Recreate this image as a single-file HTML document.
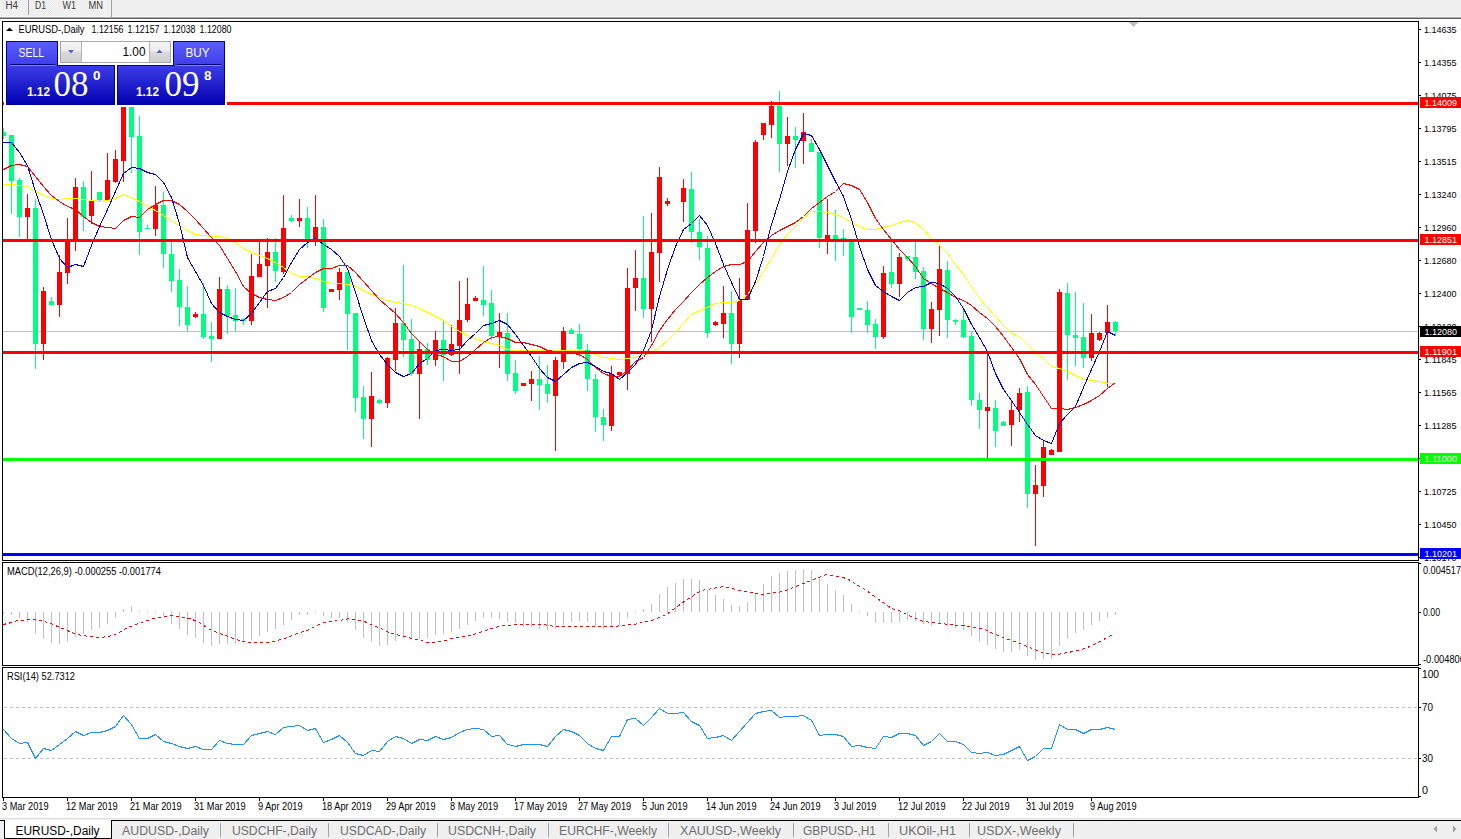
<!DOCTYPE html>
<html><head><meta charset="utf-8"><style>
html,body{margin:0;padding:0;background:#fff;}
body{width:1461px;height:839px;overflow:hidden;position:relative;font-family:"Liberation Sans", sans-serif;}
svg{position:absolute;left:0;top:0;display:block;}
</style></head><body>
<svg width="1461" height="839" viewBox="0 0 1461 839">
<rect x="0" y="0" width="1461" height="17" fill="#f0f0f0" />
<rect x="0" y="16" width="1461" height="1" fill="#f8f8f8" />
<rect x="0" y="17" width="1461" height="1" fill="#a8a8a8" />
<rect x="0" y="18" width="1461" height="1" fill="#646464" />
<rect x="28" y="0" width="1" height="15" fill="#a0a0a0" />
<rect x="111" y="0" width="1" height="17" fill="#a0a0a0" />
<defs><pattern id="dots" width="2" height="2" patternUnits="userSpaceOnUse"><rect width="2" height="2" fill="#f8f8f8"/><rect width="1" height="1" fill="#e6e6e6"/><rect x="1" y="1" width="1" height="1" fill="#e6e6e6"/></pattern><linearGradient id="gpanel" x1="0" y1="0" x2="0" y2="1"><stop offset="0" stop-color="#5c5cff"/><stop offset="0.35" stop-color="#4040ea"/><stop offset="1" stop-color="#0000b0"/></linearGradient><linearGradient id="gbtn" x1="0" y1="0" x2="0" y2="1"><stop offset="0" stop-color="#f4f4f4"/><stop offset="0.45" stop-color="#ececec"/><stop offset="0.5" stop-color="#dadada"/><stop offset="1" stop-color="#d0d0d0"/></linearGradient><clipPath id="cmain"><rect x="3" y="22" width="1415" height="538"/></clipPath><clipPath id="cmacd"><rect x="3" y="563" width="1415" height="102"/></clipPath><clipPath id="crsi"><rect x="3" y="668" width="1415" height="129"/></clipPath></defs>
<rect x="29" y="0" width="24" height="15" fill="url(#dots)" />
<text x="5.5" y="9" font-family='"Liberation Sans", sans-serif' font-size="10" fill="#3a3a3a" font-weight="normal" text-anchor="start" textLength="12.5" lengthAdjust="spacingAndGlyphs" >H4</text>
<text x="35" y="9" font-family='"Liberation Sans", sans-serif' font-size="10" fill="#3a3a3a" font-weight="normal" text-anchor="start" textLength="11" lengthAdjust="spacingAndGlyphs" >D1</text>
<text x="62.5" y="9" font-family='"Liberation Sans", sans-serif' font-size="10" fill="#3a3a3a" font-weight="normal" text-anchor="start" textLength="13.5" lengthAdjust="spacingAndGlyphs" >W1</text>
<text x="88.5" y="9" font-family='"Liberation Sans", sans-serif' font-size="10" fill="#3a3a3a" font-weight="normal" text-anchor="start" textLength="14.5" lengthAdjust="spacingAndGlyphs" >MN</text>
<rect x="2" y="21" width="1417" height="1" fill="#000" />
<rect x="2" y="560" width="1417" height="1" fill="#000" />
<rect x="2" y="21" width="1" height="540" fill="#000" />
<rect x="1418" y="21" width="1" height="540" fill="#000" />
<rect x="2" y="562" width="1417" height="1" fill="#000" />
<rect x="2" y="665" width="1417" height="1" fill="#000" />
<rect x="2" y="562" width="1" height="104" fill="#000" />
<rect x="1418" y="562" width="1" height="104" fill="#000" />
<rect x="2" y="667" width="1417" height="1" fill="#000" />
<rect x="2" y="797" width="1417" height="1" fill="#000" />
<rect x="2" y="667" width="1" height="131" fill="#000" />
<rect x="1418" y="667" width="1" height="131" fill="#000" />
<g clip-path="url(#cmain)" shape-rendering="crispEdges">
<rect x="3" y="331" width="1415" height="1" fill="#c0c0c0" />
<rect x="3" y="128" width="1" height="11" fill="#00ff7f" />
<rect x="1" y="132" width="5" height="4" fill="#00ff7f" />
<rect x="11" y="135" width="1" height="79" fill="#00ff7f" />
<rect x="9" y="135" width="5" height="46" fill="#00ff7f" />
<rect x="19" y="178" width="1" height="59" fill="#00ff7f" />
<rect x="17" y="180" width="5" height="37" fill="#00ff7f" />
<rect x="27" y="194" width="1" height="45" fill="#ff0000" />
<rect x="25" y="208" width="5" height="9" fill="#ff0000" />
<rect x="35" y="199" width="1" height="170" fill="#00ff7f" />
<rect x="33" y="208" width="5" height="136" fill="#00ff7f" />
<rect x="43" y="287" width="1" height="73" fill="#ff0000" />
<rect x="41" y="291" width="5" height="53" fill="#ff0000" />
<rect x="51" y="297" width="1" height="9" fill="#00ff7f" />
<rect x="49" y="301" width="5" height="4" fill="#00ff7f" />
<rect x="59" y="255" width="1" height="62" fill="#ff0000" />
<rect x="57" y="272" width="5" height="33" fill="#ff0000" />
<rect x="67" y="218" width="1" height="66" fill="#ff0000" />
<rect x="65" y="241" width="5" height="32" fill="#ff0000" />
<rect x="75" y="178" width="1" height="73" fill="#ff0000" />
<rect x="73" y="187" width="5" height="54" fill="#ff0000" />
<rect x="83" y="181" width="1" height="50" fill="#00ff7f" />
<rect x="81" y="187" width="5" height="30" fill="#00ff7f" />
<rect x="91" y="171" width="1" height="53" fill="#ff0000" />
<rect x="89" y="200" width="5" height="16" fill="#ff0000" />
<rect x="99" y="192" width="1" height="10" fill="#00ff7f" />
<rect x="97" y="192" width="5" height="8" fill="#00ff7f" />
<rect x="107" y="153" width="1" height="47" fill="#ff0000" />
<rect x="105" y="180" width="5" height="20" fill="#ff0000" />
<rect x="115" y="150" width="1" height="33" fill="#ff0000" />
<rect x="113" y="159" width="5" height="23" fill="#ff0000" />
<rect x="123" y="107" width="1" height="75" fill="#ff0000" />
<rect x="121" y="107" width="5" height="54" fill="#ff0000" />
<rect x="131" y="107" width="1" height="66" fill="#00ff7f" />
<rect x="129" y="107" width="5" height="30" fill="#00ff7f" />
<rect x="139" y="116" width="1" height="139" fill="#00ff7f" />
<rect x="137" y="136" width="5" height="96" fill="#00ff7f" />
<rect x="147" y="225" width="1" height="4" fill="#00ff7f" />
<rect x="145" y="228" width="5" height="1" fill="#00ff7f" />
<rect x="155" y="186" width="1" height="50" fill="#ff0000" />
<rect x="153" y="205" width="5" height="24" fill="#ff0000" />
<rect x="163" y="192" width="1" height="76" fill="#00ff7f" />
<rect x="161" y="205" width="5" height="49" fill="#00ff7f" />
<rect x="171" y="241" width="1" height="51" fill="#00ff7f" />
<rect x="169" y="254" width="5" height="27" fill="#00ff7f" />
<rect x="179" y="269" width="1" height="57" fill="#00ff7f" />
<rect x="177" y="280" width="5" height="27" fill="#00ff7f" />
<rect x="187" y="286" width="1" height="45" fill="#00ff7f" />
<rect x="185" y="307" width="5" height="18" fill="#00ff7f" />
<rect x="195" y="312" width="1" height="6" fill="#ff0000" />
<rect x="193" y="314" width="5" height="3" fill="#ff0000" />
<rect x="203" y="283" width="1" height="56" fill="#00ff7f" />
<rect x="201" y="314" width="5" height="23" fill="#00ff7f" />
<rect x="211" y="322" width="1" height="40" fill="#00ff7f" />
<rect x="209" y="336" width="5" height="3" fill="#00ff7f" />
<rect x="219" y="277" width="1" height="62" fill="#ff0000" />
<rect x="217" y="289" width="5" height="50" fill="#ff0000" />
<rect x="227" y="285" width="1" height="49" fill="#00ff7f" />
<rect x="225" y="289" width="5" height="27" fill="#00ff7f" />
<rect x="235" y="288" width="1" height="43" fill="#00ff7f" />
<rect x="233" y="315" width="5" height="6" fill="#00ff7f" />
<rect x="243" y="318" width="1" height="7" fill="#00ff7f" />
<rect x="241" y="319" width="5" height="2" fill="#00ff7f" />
<rect x="251" y="254" width="1" height="71" fill="#ff0000" />
<rect x="249" y="276" width="5" height="45" fill="#ff0000" />
<rect x="259" y="240" width="1" height="37" fill="#ff0000" />
<rect x="257" y="264" width="5" height="13" fill="#ff0000" />
<rect x="267" y="238" width="1" height="70" fill="#ff0000" />
<rect x="265" y="252" width="5" height="14" fill="#ff0000" />
<rect x="275" y="238" width="1" height="44" fill="#00ff7f" />
<rect x="273" y="252" width="5" height="19" fill="#00ff7f" />
<rect x="283" y="195" width="1" height="79" fill="#ff0000" />
<rect x="281" y="228" width="5" height="44" fill="#ff0000" />
<rect x="291" y="215" width="1" height="7" fill="#00ff7f" />
<rect x="289" y="218" width="5" height="3" fill="#00ff7f" />
<rect x="299" y="199" width="1" height="28" fill="#ff0000" />
<rect x="297" y="218" width="5" height="3" fill="#ff0000" />
<rect x="307" y="207" width="1" height="41" fill="#00ff7f" />
<rect x="305" y="218" width="5" height="21" fill="#00ff7f" />
<rect x="315" y="195" width="1" height="51" fill="#ff0000" />
<rect x="313" y="227" width="5" height="12" fill="#ff0000" />
<rect x="323" y="219" width="1" height="93" fill="#00ff7f" />
<rect x="321" y="227" width="5" height="81" fill="#00ff7f" />
<rect x="331" y="289" width="1" height="3" fill="#ff0000" />
<rect x="329" y="289" width="5" height="3" fill="#ff0000" />
<rect x="339" y="268" width="1" height="32" fill="#ff0000" />
<rect x="337" y="272" width="5" height="18" fill="#ff0000" />
<rect x="347" y="272" width="1" height="78" fill="#00ff7f" />
<rect x="345" y="272" width="5" height="42" fill="#00ff7f" />
<rect x="355" y="313" width="1" height="99" fill="#00ff7f" />
<rect x="353" y="313" width="5" height="85" fill="#00ff7f" />
<rect x="363" y="386" width="1" height="53" fill="#00ff7f" />
<rect x="361" y="397" width="5" height="22" fill="#00ff7f" />
<rect x="371" y="372" width="1" height="75" fill="#ff0000" />
<rect x="369" y="396" width="5" height="23" fill="#ff0000" />
<rect x="379" y="399" width="1" height="5" fill="#00ff7f" />
<rect x="377" y="400" width="5" height="3" fill="#00ff7f" />
<rect x="387" y="357" width="1" height="51" fill="#ff0000" />
<rect x="385" y="358" width="5" height="45" fill="#ff0000" />
<rect x="395" y="308" width="1" height="63" fill="#ff0000" />
<rect x="393" y="323" width="5" height="37" fill="#ff0000" />
<rect x="403" y="265" width="1" height="92" fill="#00ff7f" />
<rect x="401" y="323" width="5" height="17" fill="#00ff7f" />
<rect x="411" y="319" width="1" height="57" fill="#00ff7f" />
<rect x="409" y="339" width="5" height="35" fill="#00ff7f" />
<rect x="419" y="342" width="1" height="77" fill="#ff0000" />
<rect x="417" y="349" width="5" height="25" fill="#ff0000" />
<rect x="427" y="343" width="1" height="22" fill="#00ff7f" />
<rect x="425" y="349" width="5" height="11" fill="#00ff7f" />
<rect x="435" y="331" width="1" height="35" fill="#ff0000" />
<rect x="433" y="340" width="5" height="20" fill="#ff0000" />
<rect x="443" y="320" width="1" height="61" fill="#00ff7f" />
<rect x="441" y="340" width="5" height="15" fill="#00ff7f" />
<rect x="451" y="325" width="1" height="31" fill="#ff0000" />
<rect x="449" y="344" width="5" height="11" fill="#ff0000" />
<rect x="459" y="281" width="1" height="93" fill="#ff0000" />
<rect x="457" y="320" width="5" height="26" fill="#ff0000" />
<rect x="467" y="278" width="1" height="44" fill="#ff0000" />
<rect x="465" y="304" width="5" height="16" fill="#ff0000" />
<rect x="475" y="296" width="1" height="5" fill="#ff0000" />
<rect x="473" y="298" width="5" height="3" fill="#ff0000" />
<rect x="483" y="266" width="1" height="50" fill="#00ff7f" />
<rect x="481" y="300" width="5" height="5" fill="#00ff7f" />
<rect x="491" y="290" width="1" height="50" fill="#00ff7f" />
<rect x="489" y="303" width="5" height="33" fill="#00ff7f" />
<rect x="499" y="313" width="1" height="55" fill="#ff0000" />
<rect x="497" y="332" width="5" height="5" fill="#ff0000" />
<rect x="507" y="313" width="1" height="68" fill="#00ff7f" />
<rect x="505" y="333" width="5" height="41" fill="#00ff7f" />
<rect x="515" y="360" width="1" height="34" fill="#00ff7f" />
<rect x="513" y="373" width="5" height="18" fill="#00ff7f" />
<rect x="523" y="383" width="1" height="3" fill="#ff0000" />
<rect x="521" y="383" width="5" height="3" fill="#ff0000" />
<rect x="531" y="371" width="1" height="30" fill="#ff0000" />
<rect x="529" y="379" width="5" height="5" fill="#ff0000" />
<rect x="539" y="356" width="1" height="54" fill="#00ff7f" />
<rect x="537" y="379" width="5" height="6" fill="#00ff7f" />
<rect x="547" y="365" width="1" height="38" fill="#00ff7f" />
<rect x="545" y="384" width="5" height="10" fill="#00ff7f" />
<rect x="555" y="357" width="1" height="94" fill="#ff0000" />
<rect x="553" y="360" width="5" height="36" fill="#ff0000" />
<rect x="563" y="327" width="1" height="42" fill="#ff0000" />
<rect x="561" y="331" width="5" height="31" fill="#ff0000" />
<rect x="571" y="328" width="1" height="6" fill="#00ff7f" />
<rect x="569" y="330" width="5" height="4" fill="#00ff7f" />
<rect x="579" y="324" width="1" height="33" fill="#00ff7f" />
<rect x="577" y="334" width="5" height="15" fill="#00ff7f" />
<rect x="587" y="344" width="1" height="47" fill="#00ff7f" />
<rect x="585" y="350" width="5" height="29" fill="#00ff7f" />
<rect x="595" y="374" width="1" height="58" fill="#00ff7f" />
<rect x="593" y="379" width="5" height="38" fill="#00ff7f" />
<rect x="603" y="409" width="1" height="32" fill="#00ff7f" />
<rect x="601" y="417" width="5" height="8" fill="#00ff7f" />
<rect x="611" y="366" width="1" height="65" fill="#ff0000" />
<rect x="609" y="374" width="5" height="52" fill="#ff0000" />
<rect x="619" y="372" width="1" height="4" fill="#ff0000" />
<rect x="617" y="372" width="5" height="3" fill="#ff0000" />
<rect x="627" y="268" width="1" height="122" fill="#ff0000" />
<rect x="625" y="288" width="5" height="86" fill="#ff0000" />
<rect x="635" y="250" width="1" height="61" fill="#ff0000" />
<rect x="633" y="278" width="5" height="10" fill="#ff0000" />
<rect x="643" y="216" width="1" height="102" fill="#00ff7f" />
<rect x="641" y="278" width="5" height="31" fill="#00ff7f" />
<rect x="651" y="213" width="1" height="129" fill="#ff0000" />
<rect x="649" y="252" width="5" height="57" fill="#ff0000" />
<rect x="659" y="167" width="1" height="115" fill="#ff0000" />
<rect x="657" y="177" width="5" height="76" fill="#ff0000" />
<rect x="667" y="198" width="1" height="8" fill="#ff0000" />
<rect x="665" y="201" width="5" height="3" fill="#ff0000" />
<rect x="683" y="179" width="1" height="43" fill="#ff0000" />
<rect x="681" y="188" width="5" height="14" fill="#ff0000" />
<rect x="691" y="172" width="1" height="71" fill="#00ff7f" />
<rect x="689" y="189" width="5" height="43" fill="#00ff7f" />
<rect x="699" y="219" width="1" height="41" fill="#00ff7f" />
<rect x="697" y="232" width="5" height="15" fill="#00ff7f" />
<rect x="707" y="236" width="1" height="102" fill="#00ff7f" />
<rect x="705" y="248" width="5" height="85" fill="#00ff7f" />
<rect x="715" y="321" width="1" height="5" fill="#ff0000" />
<rect x="713" y="322" width="5" height="3" fill="#ff0000" />
<rect x="723" y="286" width="1" height="52" fill="#ff0000" />
<rect x="721" y="313" width="5" height="11" fill="#ff0000" />
<rect x="731" y="291" width="1" height="73" fill="#00ff7f" />
<rect x="729" y="313" width="5" height="31" fill="#00ff7f" />
<rect x="739" y="278" width="1" height="80" fill="#ff0000" />
<rect x="737" y="300" width="5" height="44" fill="#ff0000" />
<rect x="747" y="203" width="1" height="97" fill="#ff0000" />
<rect x="745" y="230" width="5" height="70" fill="#ff0000" />
<rect x="755" y="140" width="1" height="103" fill="#ff0000" />
<rect x="753" y="142" width="5" height="89" fill="#ff0000" />
<rect x="763" y="123" width="1" height="17" fill="#ff0000" />
<rect x="761" y="123" width="5" height="12" fill="#ff0000" />
<rect x="771" y="101" width="1" height="37" fill="#ff0000" />
<rect x="769" y="106" width="5" height="19" fill="#ff0000" />
<rect x="779" y="91" width="1" height="81" fill="#00ff7f" />
<rect x="777" y="106" width="5" height="38" fill="#00ff7f" />
<rect x="787" y="117" width="1" height="49" fill="#ff0000" />
<rect x="785" y="136" width="5" height="8" fill="#ff0000" />
<rect x="795" y="127" width="1" height="41" fill="#00ff7f" />
<rect x="793" y="136" width="5" height="4" fill="#00ff7f" />
<rect x="803" y="113" width="1" height="51" fill="#ff0000" />
<rect x="801" y="132" width="5" height="9" fill="#ff0000" />
<rect x="811" y="139" width="1" height="13" fill="#00ff7f" />
<rect x="809" y="143" width="5" height="9" fill="#00ff7f" />
<rect x="819" y="152" width="1" height="96" fill="#00ff7f" />
<rect x="817" y="152" width="5" height="86" fill="#00ff7f" />
<rect x="827" y="199" width="1" height="55" fill="#ff0000" />
<rect x="825" y="235" width="5" height="4" fill="#ff0000" />
<rect x="835" y="210" width="1" height="51" fill="#00ff7f" />
<rect x="833" y="235" width="5" height="4" fill="#00ff7f" />
<rect x="843" y="229" width="1" height="27" fill="#00ff7f" />
<rect x="841" y="238" width="5" height="2" fill="#00ff7f" />
<rect x="851" y="239" width="1" height="94" fill="#00ff7f" />
<rect x="849" y="242" width="5" height="75" fill="#00ff7f" />
<rect x="859" y="308" width="1" height="2" fill="#00ff7f" />
<rect x="857" y="308" width="5" height="2" fill="#00ff7f" />
<rect x="867" y="301" width="1" height="32" fill="#00ff7f" />
<rect x="865" y="310" width="5" height="15" fill="#00ff7f" />
<rect x="875" y="319" width="1" height="30" fill="#00ff7f" />
<rect x="873" y="324" width="5" height="13" fill="#00ff7f" />
<rect x="883" y="266" width="1" height="73" fill="#ff0000" />
<rect x="881" y="273" width="5" height="64" fill="#ff0000" />
<rect x="891" y="242" width="1" height="46" fill="#00ff7f" />
<rect x="889" y="272" width="5" height="12" fill="#00ff7f" />
<rect x="899" y="253" width="1" height="44" fill="#ff0000" />
<rect x="897" y="257" width="5" height="27" fill="#ff0000" />
<rect x="907" y="256" width="1" height="5" fill="#00ff7f" />
<rect x="905" y="256" width="5" height="3" fill="#00ff7f" />
<rect x="915" y="242" width="1" height="37" fill="#00ff7f" />
<rect x="913" y="257" width="5" height="15" fill="#00ff7f" />
<rect x="923" y="267" width="1" height="73" fill="#00ff7f" />
<rect x="921" y="271" width="5" height="58" fill="#00ff7f" />
<rect x="931" y="302" width="1" height="41" fill="#ff0000" />
<rect x="929" y="309" width="5" height="20" fill="#ff0000" />
<rect x="939" y="245" width="1" height="91" fill="#ff0000" />
<rect x="937" y="269" width="5" height="41" fill="#ff0000" />
<rect x="947" y="261" width="1" height="77" fill="#00ff7f" />
<rect x="945" y="270" width="5" height="50" fill="#00ff7f" />
<rect x="955" y="319" width="1" height="6" fill="#00ff7f" />
<rect x="953" y="320" width="5" height="2" fill="#00ff7f" />
<rect x="963" y="310" width="1" height="28" fill="#00ff7f" />
<rect x="961" y="320" width="5" height="17" fill="#00ff7f" />
<rect x="971" y="332" width="1" height="74" fill="#00ff7f" />
<rect x="969" y="336" width="5" height="64" fill="#00ff7f" />
<rect x="979" y="393" width="1" height="36" fill="#00ff7f" />
<rect x="977" y="400" width="5" height="10" fill="#00ff7f" />
<rect x="987" y="354" width="1" height="104" fill="#ff0000" />
<rect x="985" y="407" width="5" height="4" fill="#ff0000" />
<rect x="995" y="400" width="1" height="47" fill="#00ff7f" />
<rect x="993" y="408" width="5" height="23" fill="#00ff7f" />
<rect x="1003" y="421" width="1" height="5" fill="#00ff7f" />
<rect x="1001" y="422" width="5" height="4" fill="#00ff7f" />
<rect x="1011" y="400" width="1" height="46" fill="#ff0000" />
<rect x="1009" y="410" width="5" height="15" fill="#ff0000" />
<rect x="1019" y="388" width="1" height="34" fill="#ff0000" />
<rect x="1017" y="393" width="5" height="17" fill="#ff0000" />
<rect x="1027" y="386" width="1" height="122" fill="#00ff7f" />
<rect x="1025" y="392" width="5" height="102" fill="#00ff7f" />
<rect x="1035" y="465" width="1" height="81" fill="#ff0000" />
<rect x="1033" y="485" width="5" height="9" fill="#ff0000" />
<rect x="1043" y="441" width="1" height="56" fill="#ff0000" />
<rect x="1041" y="447" width="5" height="39" fill="#ff0000" />
<rect x="1051" y="449" width="1" height="6" fill="#ff0000" />
<rect x="1049" y="450" width="5" height="5" fill="#ff0000" />
<rect x="1059" y="289" width="1" height="163" fill="#ff0000" />
<rect x="1057" y="292" width="5" height="160" fill="#ff0000" />
<rect x="1067" y="283" width="1" height="97" fill="#00ff7f" />
<rect x="1065" y="293" width="5" height="42" fill="#00ff7f" />
<rect x="1075" y="292" width="1" height="74" fill="#00ff7f" />
<rect x="1073" y="335" width="5" height="3" fill="#00ff7f" />
<rect x="1083" y="303" width="1" height="65" fill="#00ff7f" />
<rect x="1081" y="337" width="5" height="21" fill="#00ff7f" />
<rect x="1091" y="314" width="1" height="47" fill="#ff0000" />
<rect x="1089" y="333" width="5" height="25" fill="#ff0000" />
<rect x="1099" y="332" width="1" height="9" fill="#ff0000" />
<rect x="1097" y="333" width="5" height="7" fill="#ff0000" />
<rect x="1107" y="305" width="1" height="82" fill="#ff0000" />
<rect x="1105" y="322" width="5" height="11" fill="#ff0000" />
<rect x="1115" y="321" width="1" height="15" fill="#00ff7f" />
<rect x="1113" y="322" width="5" height="9" fill="#00ff7f" />
<polyline points="-4.5,184.5 3.5,184.5 11.5,184.5 19.5,185.5 27.5,186.5 35.5,191.5 43.5,195.5 51.5,198.5 59.5,199.5 67.5,198.5 75.5,198.5 83.5,199.5 91.5,200.5 99.5,201.5 107.5,200.5 115.5,198.5 123.5,194.5 131.5,197.5 139.5,201.5 147.5,206.5 155.5,210.5 163.5,215.5 171.5,220.5 179.5,225.5 187.5,230.5 195.5,234.5 203.5,235.5 211.5,236.5 219.5,236.5 227.5,238.5 235.5,242.5 243.5,248.5 251.5,252.5 259.5,255.5 267.5,258.5 275.5,262.5 283.5,267.5 291.5,273.5 299.5,276.5 307.5,276.5 315.5,278.5 323.5,281.5 331.5,283.5 339.5,283.5 347.5,284.5 355.5,286.5 363.5,290.5 371.5,294.5 379.5,297.5 387.5,300.5 395.5,302.5 403.5,303.5 411.5,305.5 419.5,308.5 427.5,312.5 435.5,316.5 443.5,320.5 451.5,326.5 459.5,331.5 467.5,335.5 475.5,338.5 483.5,341.5 491.5,343.5 499.5,345.5 507.5,349.5 515.5,350.5 523.5,350.5 531.5,350.5 539.5,350.5 547.5,350.5 555.5,350.5 563.5,350.5 571.5,350.5 579.5,350.5 587.5,351.5 595.5,354.5 603.5,357.5 611.5,358.5 619.5,359.5 627.5,358.5 635.5,357.5 643.5,355.5 651.5,352.5 659.5,347.5 667.5,340.5 675.5,332.5 683.5,323.5 691.5,314.5 699.5,310.5 707.5,307.5 715.5,303.5 723.5,302.5 731.5,302.5 739.5,300.5 747.5,294.5 755.5,284.5 763.5,271.5 771.5,258.5 779.5,244.5 787.5,234.5 795.5,226.5 803.5,218.5 811.5,211.5 819.5,211.5 827.5,212.5 835.5,214.5 843.5,217.5 851.5,222.5 859.5,226.5 867.5,229.5 875.5,229.5 883.5,227.5 891.5,225.5 899.5,222.5 907.5,220.5 915.5,222.5 923.5,229.5 931.5,238.5 939.5,245.5 947.5,253.5 955.5,264.5 963.5,274.5 971.5,286.5 979.5,298.5 987.5,307.5 995.5,316.5 1003.5,325.5 1011.5,333.5 1019.5,336.5 1027.5,344.5 1035.5,352.5 1043.5,358.5 1051.5,366.5 1059.5,368.5 1067.5,371.5 1075.5,375.5 1083.5,379.5 1091.5,380.5 1099.5,381.5 1107.5,383.5 1115.5,383.5" fill="none" stroke="#ffff00" stroke-width="1" />
<polyline points="-4.5,172.5 3.5,169.5 11.5,165.5 19.5,164.5 27.5,166.5 35.5,176.5 43.5,186.5 51.5,195.5 59.5,201.5 67.5,206.5 75.5,209.5 83.5,216.5 91.5,222.5 99.5,226.5 107.5,227.5 115.5,228.5 123.5,220.5 131.5,216.5 139.5,217.5 147.5,209.5 155.5,204.5 163.5,200.5 171.5,200.5 179.5,204.5 187.5,211.5 195.5,219.5 203.5,228.5 211.5,237.5 219.5,245.5 227.5,258.5 235.5,271.5 243.5,286.5 251.5,293.5 259.5,297.5 267.5,299.5 275.5,300.5 283.5,297.5 291.5,292.5 299.5,284.5 307.5,278.5 315.5,272.5 323.5,268.5 331.5,268.5 339.5,265.5 347.5,265.5 355.5,272.5 363.5,281.5 371.5,290.5 379.5,299.5 387.5,306.5 395.5,313.5 403.5,322.5 411.5,333.5 419.5,341.5 427.5,349.5 435.5,354.5 443.5,356.5 451.5,361.5 459.5,361.5 467.5,356.5 475.5,349.5 483.5,342.5 491.5,337.5 499.5,336.5 507.5,338.5 515.5,342.5 523.5,342.5 531.5,344.5 539.5,346.5 547.5,350.5 555.5,351.5 563.5,352.5 571.5,353.5 579.5,354.5 587.5,359.5 595.5,367.5 603.5,373.5 611.5,376.5 619.5,376.5 627.5,370.5 635.5,361.5 643.5,357.5 651.5,345.5 659.5,330.5 667.5,319.5 675.5,309.5 683.5,301.5 691.5,292.5 699.5,284.5 707.5,277.5 715.5,271.5 723.5,266.5 731.5,264.5 739.5,264.5 747.5,261.5 755.5,251.5 763.5,242.5 771.5,235.5 779.5,230.5 787.5,226.5 795.5,222.5 803.5,216.5 811.5,208.5 819.5,202.5 827.5,196.5 835.5,191.5 843.5,183.5 851.5,185.5 859.5,189.5 867.5,202.5 875.5,218.5 883.5,229.5 891.5,239.5 899.5,249.5 907.5,257.5 915.5,266.5 923.5,278.5 931.5,283.5 939.5,288.5 947.5,292.5 955.5,297.5 963.5,300.5 971.5,305.5 979.5,312.5 987.5,318.5 995.5,326.5 1003.5,336.5 1011.5,347.5 1019.5,358.5 1027.5,374.5 1035.5,384.5 1043.5,396.5 1051.5,408.5 1059.5,408.5 1067.5,409.5 1075.5,407.5 1083.5,404.5 1091.5,400.5 1099.5,395.5 1107.5,388.5 1115.5,382.5" fill="none" stroke="#ff0000" stroke-width="1" />
<polyline points="-4.5,140.5 3.5,142.5 11.5,142.5 19.5,152.5 27.5,165.5 35.5,191.5 43.5,214.5 51.5,239.5 59.5,258.5 67.5,267.5 75.5,264.5 83.5,266.5 91.5,245.5 99.5,226.5 107.5,209.5 115.5,191.5 123.5,173.5 131.5,167.5 139.5,168.5 147.5,172.5 155.5,174.5 163.5,182.5 171.5,197.5 179.5,223.5 187.5,257.5 195.5,271.5 203.5,285.5 211.5,303.5 219.5,312.5 227.5,316.5 235.5,319.5 243.5,320.5 251.5,313.5 259.5,302.5 267.5,291.5 275.5,288.5 283.5,277.5 291.5,262.5 299.5,249.5 307.5,242.5 315.5,238.5 323.5,244.5 331.5,249.5 339.5,256.5 347.5,268.5 355.5,292.5 363.5,317.5 371.5,340.5 379.5,354.5 387.5,364.5 395.5,372.5 403.5,376.5 411.5,373.5 419.5,363.5 427.5,358.5 435.5,350.5 443.5,349.5 451.5,350.5 459.5,349.5 467.5,340.5 475.5,333.5 483.5,325.5 491.5,323.5 499.5,320.5 507.5,324.5 515.5,334.5 523.5,345.5 531.5,356.5 539.5,368.5 547.5,377.5 555.5,381.5 563.5,374.5 571.5,367.5 579.5,363.5 587.5,362.5 595.5,366.5 603.5,371.5 611.5,373.5 619.5,379.5 627.5,372.5 635.5,364.5 643.5,350.5 651.5,330.5 659.5,296.5 667.5,269.5 675.5,246.5 683.5,229.5 691.5,223.5 699.5,215.5 707.5,225.5 715.5,243.5 723.5,264.5 731.5,282.5 739.5,299.5 747.5,299.5 755.5,281.5 763.5,256.5 771.5,224.5 779.5,199.5 787.5,171.5 795.5,149.5 803.5,133.5 811.5,135.5 819.5,149.5 827.5,165.5 835.5,181.5 843.5,196.5 851.5,219.5 859.5,246.5 867.5,269.5 875.5,285.5 883.5,291.5 891.5,296.5 899.5,300.5 907.5,292.5 915.5,287.5 923.5,286.5 931.5,282.5 939.5,283.5 947.5,288.5 955.5,296.5 963.5,308.5 971.5,324.5 979.5,337.5 987.5,351.5 995.5,373.5 1003.5,389.5 1011.5,400.5 1019.5,412.5 1027.5,424.5 1035.5,435.5 1043.5,440.5 1051.5,443.5 1059.5,423.5 1067.5,414.5 1075.5,406.5 1083.5,387.5 1091.5,369.5 1099.5,351.5 1107.5,331.5 1115.5,335.5" fill="none" stroke="#0000dd" stroke-width="1" />
<rect x="3" y="102" width="1415" height="3" fill="#ff0000" />
<rect x="3" y="239" width="1415" height="3" fill="#ff0000" />
<rect x="3" y="351" width="1415" height="3" fill="#ff0000" />
<rect x="3" y="458" width="1415" height="3" fill="#00ff00" />
<rect x="3" y="553" width="1415" height="3" fill="#0000ff" />
<polygon points="1127,21 1139,21 1133,27" fill="#c0c0c0"/>
</g>
<polygon points="6,31 13,31 9.5,27.5" fill="#000"/>
<text x="18.5" y="33" font-family='"Liberation Sans", sans-serif' font-size="10" fill="#000" font-weight="normal" text-anchor="start" textLength="66" lengthAdjust="spacingAndGlyphs" >EURUSD-,Daily</text>
<text x="91.5" y="33" font-family='"Liberation Sans", sans-serif' font-size="10" fill="#000" font-weight="normal" text-anchor="start" textLength="32" lengthAdjust="spacingAndGlyphs" >1.12156</text>
<text x="127.5" y="33" font-family='"Liberation Sans", sans-serif' font-size="10" fill="#000" font-weight="normal" text-anchor="start" textLength="32" lengthAdjust="spacingAndGlyphs" >1.12157</text>
<text x="163.5" y="33" font-family='"Liberation Sans", sans-serif' font-size="10" fill="#000" font-weight="normal" text-anchor="start" textLength="32" lengthAdjust="spacingAndGlyphs" >1.12038</text>
<text x="199.5" y="33" font-family='"Liberation Sans", sans-serif' font-size="10" fill="#000" font-weight="normal" text-anchor="start" textLength="32" lengthAdjust="spacingAndGlyphs" >1.12080</text>
<rect x="4" y="39" width="223" height="68" fill="#ffffff" />
<g shape-rendering="crispEdges">
<polygon points="6.5,41.5 57.5,41.5 57.5,65.5 114.5,65.5 114.5,104.5 6.5,104.5" fill="url(#gpanel)" stroke="#0000a0" stroke-width="1"/>
<polygon points="173.5,41.5 224.5,41.5 224.5,104.5 117.5,104.5 117.5,65.5 173.5,65.5" fill="url(#gpanel)" stroke="#0000a0" stroke-width="1"/>
<rect x="10" y="64" width="45" height="1" fill="#000080" />
<rect x="10" y="65" width="45" height="1" fill="#8080ff" />
<rect x="177" y="64" width="44" height="1" fill="#000080" />
<rect x="177" y="65" width="44" height="1" fill="#8080ff" />
<rect x="60" y="41" width="111" height="22" fill="#a8a8a8" />
<rect x="61" y="42" width="109" height="20" fill="#ffffff" />
<rect x="61" y="42" width="20" height="20" fill="url(#gbtn)" />
<rect x="81" y="42" width="1" height="20" fill="#b4b4b4" />
<rect x="149" y="42" width="1" height="20" fill="#b4b4b4" />
<rect x="150" y="42" width="20" height="20" fill="url(#gbtn)" />
</g>
<polygon points="68,50 74,50 71,53.5" fill="#4a64c8"/>
<polygon points="156.5,53 162.5,53 159.5,49.5" fill="#4a64c8"/>
<text x="18.5" y="57" font-family='"Liberation Sans", sans-serif' font-size="12" fill="#ffffff" font-weight="normal" text-anchor="start" textLength="25.5" lengthAdjust="spacingAndGlyphs" >SELL</text>
<text x="185.5" y="57" font-family='"Liberation Sans", sans-serif' font-size="12" fill="#ffffff" font-weight="normal" text-anchor="start" textLength="24" lengthAdjust="spacingAndGlyphs" >BUY</text>
<text x="122.5" y="56" font-family='"Liberation Sans", sans-serif' font-size="12" fill="#000" font-weight="normal" text-anchor="start" textLength="23" lengthAdjust="spacingAndGlyphs" >1.00</text>
<text x="27" y="96" font-family='"Liberation Sans", sans-serif' font-size="13" fill="#ffffff" font-weight="bold" text-anchor="start" textLength="23" lengthAdjust="spacingAndGlyphs" >1.12</text>
<text x="53.5" y="96" font-family='"Liberation Serif", serif' font-size="36" fill="#ffffff" font-weight="normal" text-anchor="start" textLength="35" lengthAdjust="spacingAndGlyphs" >08</text>
<text x="93" y="80" font-family='"Liberation Sans", sans-serif' font-size="12" fill="#ffffff" font-weight="bold" text-anchor="start" textLength="7.5" lengthAdjust="spacingAndGlyphs" >0</text>
<text x="136" y="96" font-family='"Liberation Sans", sans-serif' font-size="13" fill="#ffffff" font-weight="bold" text-anchor="start" textLength="23" lengthAdjust="spacingAndGlyphs" >1.12</text>
<text x="164.5" y="96" font-family='"Liberation Serif", serif' font-size="36" fill="#ffffff" font-weight="normal" text-anchor="start" textLength="35" lengthAdjust="spacingAndGlyphs" >09</text>
<text x="204" y="80" font-family='"Liberation Sans", sans-serif' font-size="12" fill="#ffffff" font-weight="bold" text-anchor="start" textLength="7.5" lengthAdjust="spacingAndGlyphs" >8</text>
<rect x="1419" y="29" width="2" height="1" fill="#000" />
<text x="1424" y="33" font-family='"Liberation Sans", sans-serif' font-size="9.5" fill="#000" font-weight="normal" text-anchor="start" textLength="32.5" lengthAdjust="spacingAndGlyphs" >1.14635</text>
<rect x="1419" y="62" width="2" height="1" fill="#000" />
<text x="1424" y="66" font-family='"Liberation Sans", sans-serif' font-size="9.5" fill="#000" font-weight="normal" text-anchor="start" textLength="32.5" lengthAdjust="spacingAndGlyphs" >1.14355</text>
<rect x="1419" y="95" width="2" height="1" fill="#000" />
<text x="1424" y="99" font-family='"Liberation Sans", sans-serif' font-size="9.5" fill="#000" font-weight="normal" text-anchor="start" textLength="32.5" lengthAdjust="spacingAndGlyphs" >1.14075</text>
<rect x="1419" y="128" width="2" height="1" fill="#000" />
<text x="1424" y="132" font-family='"Liberation Sans", sans-serif' font-size="9.5" fill="#000" font-weight="normal" text-anchor="start" textLength="32.5" lengthAdjust="spacingAndGlyphs" >1.13795</text>
<rect x="1419" y="161" width="2" height="1" fill="#000" />
<text x="1424" y="165" font-family='"Liberation Sans", sans-serif' font-size="9.5" fill="#000" font-weight="normal" text-anchor="start" textLength="32.5" lengthAdjust="spacingAndGlyphs" >1.13515</text>
<rect x="1419" y="194" width="2" height="1" fill="#000" />
<text x="1424" y="198" font-family='"Liberation Sans", sans-serif' font-size="9.5" fill="#000" font-weight="normal" text-anchor="start" textLength="32.5" lengthAdjust="spacingAndGlyphs" >1.13240</text>
<rect x="1419" y="227" width="2" height="1" fill="#000" />
<text x="1424" y="231" font-family='"Liberation Sans", sans-serif' font-size="9.5" fill="#000" font-weight="normal" text-anchor="start" textLength="32.5" lengthAdjust="spacingAndGlyphs" >1.12960</text>
<rect x="1419" y="260" width="2" height="1" fill="#000" />
<text x="1424" y="264" font-family='"Liberation Sans", sans-serif' font-size="9.5" fill="#000" font-weight="normal" text-anchor="start" textLength="32.5" lengthAdjust="spacingAndGlyphs" >1.12680</text>
<rect x="1419" y="293" width="2" height="1" fill="#000" />
<text x="1424" y="297" font-family='"Liberation Sans", sans-serif' font-size="9.5" fill="#000" font-weight="normal" text-anchor="start" textLength="32.5" lengthAdjust="spacingAndGlyphs" >1.12400</text>
<rect x="1419" y="326" width="2" height="1" fill="#000" />
<text x="1424" y="330" font-family='"Liberation Sans", sans-serif' font-size="9.5" fill="#000" font-weight="normal" text-anchor="start" textLength="32.5" lengthAdjust="spacingAndGlyphs" >1.12120</text>
<rect x="1419" y="359" width="2" height="1" fill="#000" />
<text x="1424" y="363" font-family='"Liberation Sans", sans-serif' font-size="9.5" fill="#000" font-weight="normal" text-anchor="start" textLength="32.5" lengthAdjust="spacingAndGlyphs" >1.11845</text>
<rect x="1419" y="392" width="2" height="1" fill="#000" />
<text x="1424" y="396" font-family='"Liberation Sans", sans-serif' font-size="9.5" fill="#000" font-weight="normal" text-anchor="start" textLength="32.5" lengthAdjust="spacingAndGlyphs" >1.11565</text>
<rect x="1419" y="425" width="2" height="1" fill="#000" />
<text x="1424" y="429" font-family='"Liberation Sans", sans-serif' font-size="9.5" fill="#000" font-weight="normal" text-anchor="start" textLength="32.5" lengthAdjust="spacingAndGlyphs" >1.11285</text>
<rect x="1419" y="458" width="2" height="1" fill="#000" />
<text x="1424" y="462" font-family='"Liberation Sans", sans-serif' font-size="9.5" fill="#000" font-weight="normal" text-anchor="start" textLength="32.5" lengthAdjust="spacingAndGlyphs" >1.11005</text>
<rect x="1419" y="491" width="2" height="1" fill="#000" />
<text x="1424" y="495" font-family='"Liberation Sans", sans-serif' font-size="9.5" fill="#000" font-weight="normal" text-anchor="start" textLength="32.5" lengthAdjust="spacingAndGlyphs" >1.10725</text>
<rect x="1419" y="524" width="2" height="1" fill="#000" />
<text x="1424" y="528" font-family='"Liberation Sans", sans-serif' font-size="9.5" fill="#000" font-weight="normal" text-anchor="start" textLength="32.5" lengthAdjust="spacingAndGlyphs" >1.10450</text>
<rect x="1419" y="557" width="2" height="1" fill="#000" />
<text x="1424" y="561" font-family='"Liberation Sans", sans-serif' font-size="9.5" fill="#000" font-weight="normal" text-anchor="start" textLength="32.5" lengthAdjust="spacingAndGlyphs" >1.10170</text>
<rect x="1420" y="97" width="41" height="11" fill="#ff0000" />
<text x="1424.5" y="106" font-family='"Liberation Sans", sans-serif' font-size="9.5" fill="#fff" font-weight="normal" text-anchor="start" textLength="32.5" lengthAdjust="spacingAndGlyphs" >1.14009</text>
<rect x="1420" y="234" width="41" height="11" fill="#ff0000" />
<text x="1424.5" y="243" font-family='"Liberation Sans", sans-serif' font-size="9.5" fill="#fff" font-weight="normal" text-anchor="start" textLength="32.5" lengthAdjust="spacingAndGlyphs" >1.12851</text>
<rect x="1420" y="326" width="41" height="11" fill="#000000" />
<text x="1424.5" y="335" font-family='"Liberation Sans", sans-serif' font-size="9.5" fill="#fff" font-weight="normal" text-anchor="start" textLength="32.5" lengthAdjust="spacingAndGlyphs" >1.12080</text>
<rect x="1420" y="346" width="41" height="11" fill="#ff0000" />
<text x="1424.5" y="355" font-family='"Liberation Sans", sans-serif' font-size="9.5" fill="#fff" font-weight="normal" text-anchor="start" textLength="32.5" lengthAdjust="spacingAndGlyphs" >1.11901</text>
<rect x="1420" y="453" width="41" height="11" fill="#00ff00" />
<text x="1424.5" y="462" font-family='"Liberation Sans", sans-serif' font-size="9.5" fill="#fff" font-weight="normal" text-anchor="start" textLength="32.5" lengthAdjust="spacingAndGlyphs" >1.11000</text>
<rect x="1420" y="548" width="41" height="11" fill="#0000ff" />
<text x="1424.5" y="557" font-family='"Liberation Sans", sans-serif' font-size="9.5" fill="#fff" font-weight="normal" text-anchor="start" textLength="32.5" lengthAdjust="spacingAndGlyphs" >1.10201</text>
<g clip-path="url(#cmacd)" shape-rendering="crispEdges">
<rect x="3" y="612" width="1" height="2" fill="#c0c0c0" />
<rect x="11" y="612" width="1" height="3" fill="#c0c0c0" />
<rect x="19" y="612" width="1" height="6" fill="#c0c0c0" />
<rect x="27" y="612" width="1" height="10" fill="#c0c0c0" />
<rect x="35" y="612" width="1" height="22" fill="#c0c0c0" />
<rect x="43" y="612" width="1" height="27" fill="#c0c0c0" />
<rect x="51" y="612" width="1" height="31" fill="#c0c0c0" />
<rect x="59" y="612" width="1" height="32" fill="#c0c0c0" />
<rect x="67" y="612" width="1" height="30" fill="#c0c0c0" />
<rect x="75" y="612" width="1" height="25" fill="#c0c0c0" />
<rect x="83" y="612" width="1" height="22" fill="#c0c0c0" />
<rect x="91" y="612" width="1" height="18" fill="#c0c0c0" />
<rect x="99" y="612" width="1" height="16" fill="#c0c0c0" />
<rect x="107" y="612" width="1" height="12" fill="#c0c0c0" />
<rect x="115" y="612" width="1" height="6" fill="#c0c0c0" />
<rect x="123" y="609" width="1" height="3" fill="#c0c0c0" />
<rect x="131" y="606" width="1" height="6" fill="#c0c0c0" />
<rect x="139" y="611" width="1" height="1" fill="#c0c0c0" />
<rect x="147" y="612" width="1" height="1" fill="#c0c0c0" />
<rect x="155" y="612" width="1" height="1" fill="#c0c0c0" />
<rect x="163" y="612" width="1" height="4" fill="#c0c0c0" />
<rect x="171" y="612" width="1" height="12" fill="#c0c0c0" />
<rect x="179" y="612" width="1" height="17" fill="#c0c0c0" />
<rect x="187" y="612" width="1" height="23" fill="#c0c0c0" />
<rect x="195" y="612" width="1" height="26" fill="#c0c0c0" />
<rect x="203" y="612" width="1" height="31" fill="#c0c0c0" />
<rect x="211" y="612" width="1" height="34" fill="#c0c0c0" />
<rect x="219" y="612" width="1" height="32" fill="#c0c0c0" />
<rect x="227" y="612" width="1" height="32" fill="#c0c0c0" />
<rect x="235" y="612" width="1" height="32" fill="#c0c0c0" />
<rect x="243" y="612" width="1" height="29" fill="#c0c0c0" />
<rect x="251" y="612" width="1" height="28" fill="#c0c0c0" />
<rect x="259" y="612" width="1" height="24" fill="#c0c0c0" />
<rect x="267" y="612" width="1" height="20" fill="#c0c0c0" />
<rect x="275" y="612" width="1" height="17" fill="#c0c0c0" />
<rect x="283" y="612" width="1" height="13" fill="#c0c0c0" />
<rect x="291" y="612" width="1" height="8" fill="#c0c0c0" />
<rect x="299" y="612" width="1" height="3" fill="#c0c0c0" />
<rect x="307" y="612" width="1" height="3" fill="#c0c0c0" />
<rect x="315" y="612" width="1" height="1" fill="#c0c0c0" />
<rect x="323" y="612" width="1" height="4" fill="#c0c0c0" />
<rect x="331" y="612" width="1" height="6" fill="#c0c0c0" />
<rect x="339" y="612" width="1" height="6" fill="#c0c0c0" />
<rect x="347" y="612" width="1" height="10" fill="#c0c0c0" />
<rect x="355" y="612" width="1" height="18" fill="#c0c0c0" />
<rect x="363" y="612" width="1" height="26" fill="#c0c0c0" />
<rect x="371" y="612" width="1" height="30" fill="#c0c0c0" />
<rect x="379" y="612" width="1" height="34" fill="#c0c0c0" />
<rect x="387" y="612" width="1" height="33" fill="#c0c0c0" />
<rect x="395" y="612" width="1" height="29" fill="#c0c0c0" />
<rect x="403" y="612" width="1" height="26" fill="#c0c0c0" />
<rect x="411" y="612" width="1" height="27" fill="#c0c0c0" />
<rect x="419" y="612" width="1" height="27" fill="#c0c0c0" />
<rect x="427" y="612" width="1" height="26" fill="#c0c0c0" />
<rect x="435" y="612" width="1" height="23" fill="#c0c0c0" />
<rect x="443" y="612" width="1" height="22" fill="#c0c0c0" />
<rect x="451" y="612" width="1" height="20" fill="#c0c0c0" />
<rect x="459" y="612" width="1" height="17" fill="#c0c0c0" />
<rect x="467" y="612" width="1" height="13" fill="#c0c0c0" />
<rect x="475" y="612" width="1" height="9" fill="#c0c0c0" />
<rect x="483" y="612" width="1" height="6" fill="#c0c0c0" />
<rect x="491" y="612" width="1" height="6" fill="#c0c0c0" />
<rect x="499" y="612" width="1" height="7" fill="#c0c0c0" />
<rect x="507" y="612" width="1" height="10" fill="#c0c0c0" />
<rect x="515" y="612" width="1" height="11" fill="#c0c0c0" />
<rect x="523" y="612" width="1" height="15" fill="#c0c0c0" />
<rect x="531" y="612" width="1" height="15" fill="#c0c0c0" />
<rect x="539" y="612" width="1" height="17" fill="#c0c0c0" />
<rect x="547" y="612" width="1" height="18" fill="#c0c0c0" />
<rect x="555" y="612" width="1" height="17" fill="#c0c0c0" />
<rect x="563" y="612" width="1" height="13" fill="#c0c0c0" />
<rect x="571" y="612" width="1" height="10" fill="#c0c0c0" />
<rect x="579" y="612" width="1" height="9" fill="#c0c0c0" />
<rect x="587" y="612" width="1" height="10" fill="#c0c0c0" />
<rect x="595" y="612" width="1" height="14" fill="#c0c0c0" />
<rect x="603" y="612" width="1" height="17" fill="#c0c0c0" />
<rect x="611" y="612" width="1" height="15" fill="#c0c0c0" />
<rect x="619" y="612" width="1" height="13" fill="#c0c0c0" />
<rect x="627" y="612" width="1" height="6" fill="#c0c0c0" />
<rect x="635" y="612" width="1" height="1" fill="#c0c0c0" />
<rect x="643" y="609" width="1" height="3" fill="#c0c0c0" />
<rect x="651" y="604" width="1" height="8" fill="#c0c0c0" />
<rect x="659" y="594" width="1" height="18" fill="#c0c0c0" />
<rect x="667" y="587" width="1" height="25" fill="#c0c0c0" />
<rect x="675" y="583" width="1" height="29" fill="#c0c0c0" />
<rect x="683" y="579" width="1" height="33" fill="#c0c0c0" />
<rect x="691" y="579" width="1" height="33" fill="#c0c0c0" />
<rect x="699" y="580" width="1" height="32" fill="#c0c0c0" />
<rect x="707" y="590" width="1" height="22" fill="#c0c0c0" />
<rect x="715" y="595" width="1" height="17" fill="#c0c0c0" />
<rect x="723" y="599" width="1" height="13" fill="#c0c0c0" />
<rect x="731" y="605" width="1" height="7" fill="#c0c0c0" />
<rect x="739" y="606" width="1" height="6" fill="#c0c0c0" />
<rect x="747" y="602" width="1" height="10" fill="#c0c0c0" />
<rect x="755" y="593" width="1" height="19" fill="#c0c0c0" />
<rect x="763" y="584" width="1" height="28" fill="#c0c0c0" />
<rect x="771" y="576" width="1" height="36" fill="#c0c0c0" />
<rect x="779" y="573" width="1" height="39" fill="#c0c0c0" />
<rect x="787" y="571" width="1" height="41" fill="#c0c0c0" />
<rect x="795" y="570" width="1" height="42" fill="#c0c0c0" />
<rect x="803" y="569" width="1" height="43" fill="#c0c0c0" />
<rect x="811" y="570" width="1" height="42" fill="#c0c0c0" />
<rect x="819" y="578" width="1" height="34" fill="#c0c0c0" />
<rect x="827" y="584" width="1" height="28" fill="#c0c0c0" />
<rect x="835" y="590" width="1" height="22" fill="#c0c0c0" />
<rect x="843" y="595" width="1" height="17" fill="#c0c0c0" />
<rect x="851" y="604" width="1" height="8" fill="#c0c0c0" />
<rect x="859" y="611" width="1" height="1" fill="#c0c0c0" />
<rect x="867" y="612" width="1" height="4" fill="#c0c0c0" />
<rect x="875" y="612" width="1" height="11" fill="#c0c0c0" />
<rect x="883" y="612" width="1" height="11" fill="#c0c0c0" />
<rect x="891" y="612" width="1" height="11" fill="#c0c0c0" />
<rect x="899" y="612" width="1" height="10" fill="#c0c0c0" />
<rect x="907" y="612" width="1" height="8" fill="#c0c0c0" />
<rect x="915" y="612" width="1" height="9" fill="#c0c0c0" />
<rect x="923" y="612" width="1" height="12" fill="#c0c0c0" />
<rect x="931" y="612" width="1" height="14" fill="#c0c0c0" />
<rect x="939" y="612" width="1" height="11" fill="#c0c0c0" />
<rect x="947" y="612" width="1" height="14" fill="#c0c0c0" />
<rect x="955" y="612" width="1" height="16" fill="#c0c0c0" />
<rect x="963" y="612" width="1" height="18" fill="#c0c0c0" />
<rect x="971" y="612" width="1" height="24" fill="#c0c0c0" />
<rect x="979" y="612" width="1" height="30" fill="#c0c0c0" />
<rect x="987" y="612" width="1" height="33" fill="#c0c0c0" />
<rect x="995" y="612" width="1" height="37" fill="#c0c0c0" />
<rect x="1003" y="612" width="1" height="40" fill="#c0c0c0" />
<rect x="1011" y="612" width="1" height="40" fill="#c0c0c0" />
<rect x="1019" y="612" width="1" height="38" fill="#c0c0c0" />
<rect x="1027" y="612" width="1" height="44" fill="#c0c0c0" />
<rect x="1035" y="612" width="1" height="48" fill="#c0c0c0" />
<rect x="1043" y="612" width="1" height="47" fill="#c0c0c0" />
<rect x="1051" y="612" width="1" height="47" fill="#c0c0c0" />
<rect x="1059" y="612" width="1" height="34" fill="#c0c0c0" />
<rect x="1067" y="612" width="1" height="27" fill="#c0c0c0" />
<rect x="1075" y="612" width="1" height="21" fill="#c0c0c0" />
<rect x="1083" y="612" width="1" height="18" fill="#c0c0c0" />
<rect x="1091" y="612" width="1" height="13" fill="#c0c0c0" />
<rect x="1099" y="612" width="1" height="9" fill="#c0c0c0" />
<rect x="1107" y="612" width="1" height="6" fill="#c0c0c0" />
<rect x="1115" y="612" width="1" height="3" fill="#c0c0c0" />
<polyline points="3.5,624.5 11.5,622.5 17.5,620.5 23.5,620.5 29.5,619.5 35.5,619.5 41.5,620.5 47.5,622.5 53.5,624.5 59.5,627.5 65.5,629.5 71.5,632.5 77.5,634.5 88.8,636.5 101.1,637.5 113.5,635.5 127.8,627.5 144.2,621.5 156.5,617.5 173.0,615.5 189.5,618.5 197.5,621.5 209.9,629.5 222.3,634.5 236.5,639.5 246.9,642.5 267.5,642.5 281.8,639.5 300.3,632.5 306.8,630.5 323.2,622.5 339.5,620.5 349.9,618.5 364.3,621.5 378.5,627.5 388.9,632.5 403.3,636.5 417.5,639.5 427.9,642.5 442.3,641.5 454.5,637.5 471.0,635.5 485.5,630.5 501.8,625.5 522.4,624.5 542.9,624.5 555.2,626.5 596.3,626.5 613.0,626.5 633.5,624.5 652.0,620.5 666.5,614.5 682.8,602.5 701.3,590.5 723.9,586.5 740.3,590.5 762.9,594.5 783.5,591.5 806.1,582.5 826.5,574.5 847.1,578.5 867.7,591.5 891.5,608.5 898.8,610.5 911.1,616.5 923.4,621.5 939.8,623.5 950.1,624.5 970.5,626.5 985.0,629.5 995.3,634.5 1005.5,638.5 1017.9,642.5 1032.2,648.5 1044.5,653.5 1056.9,654.5 1073.3,651.5 1085.5,648.5 1100.0,641.5 1114.4,633.5" fill="none" stroke="#ff0000" stroke-width="1" stroke-dasharray="3 3" />
</g>
<text x="7" y="575" font-family='"Liberation Sans", sans-serif' font-size="10" fill="#000" font-weight="normal" text-anchor="start" textLength="154" lengthAdjust="spacingAndGlyphs" >MACD(12,26,9) -0.000255 -0.001774</text>
<rect x="1419" y="563" width="2" height="1" fill="#000" />
<text x="1423" y="574" font-family='"Liberation Sans", sans-serif' font-size="10" fill="#000" font-weight="normal" text-anchor="start" textLength="38" lengthAdjust="spacingAndGlyphs" >0.004517</text>
<rect x="1419" y="612" width="2" height="1" fill="#000" />
<text x="1423" y="616" font-family='"Liberation Sans", sans-serif' font-size="10" fill="#000" font-weight="normal" text-anchor="start" textLength="17" lengthAdjust="spacingAndGlyphs" >0.00</text>
<rect x="1419" y="664" width="2" height="1" fill="#000" />
<text x="1423" y="663" font-family='"Liberation Sans", sans-serif' font-size="10" fill="#000" font-weight="normal" text-anchor="start" textLength="42" lengthAdjust="spacingAndGlyphs" >-0.004806</text>
<g clip-path="url(#crsi)" shape-rendering="crispEdges">
<line x1="4" y1="707.5" x2="1418" y2="707.5" stroke="#c0c0c0" stroke-width="1" stroke-dasharray="3 3"/>
<line x1="4" y1="758.5" x2="1418" y2="758.5" stroke="#c0c0c0" stroke-width="1" stroke-dasharray="3 3"/>
<polyline points="3.5,729.5 11.5,738.5 19.5,743.5 27.5,742.5 35.5,758.5 43.5,748.5 51.5,750.5 59.5,744.5 67.5,738.5 75.5,731.5 83.5,735.5 91.5,732.5 99.5,732.5 107.5,730.5 115.5,726.5 123.5,715.5 131.5,724.5 139.5,738.5 147.5,738.5 155.5,734.5 163.5,741.5 171.5,743.5 179.5,746.5 187.5,748.5 195.5,746.5 203.5,749.5 211.5,749.5 219.5,740.5 227.5,743.5 235.5,744.5 243.5,744.5 251.5,735.5 259.5,733.5 267.5,731.5 275.5,734.5 283.5,727.5 291.5,726.5 299.5,725.5 307.5,730.5 315.5,728.5 323.5,742.5 331.5,739.5 339.5,735.5 347.5,742.5 355.5,753.5 363.5,755.5 371.5,750.5 379.5,751.5 387.5,741.5 395.5,736.5 403.5,738.5 411.5,743.5 419.5,739.5 427.5,740.5 435.5,736.5 443.5,739.5 451.5,737.5 459.5,732.5 467.5,729.5 475.5,728.5 483.5,729.5 491.5,736.5 499.5,735.5 507.5,744.5 515.5,746.5 523.5,744.5 531.5,744.5 539.5,744.5 547.5,746.5 555.5,736.5 563.5,729.5 571.5,731.5 579.5,735.5 587.5,743.5 595.5,748.5 603.5,750.5 611.5,736.5 619.5,736.5 627.5,719.5 635.5,718.5 643.5,725.5 651.5,717.5 659.5,708.5 667.5,713.5 675.5,713.5 683.5,712.5 691.5,721.5 699.5,725.5 707.5,738.5 715.5,737.5 723.5,735.5 731.5,740.5 739.5,731.5 747.5,722.5 755.5,713.5 763.5,711.5 771.5,710.5 779.5,717.5 787.5,716.5 795.5,716.5 803.5,715.5 811.5,720.5 819.5,735.5 827.5,734.5 835.5,734.5 843.5,736.5 851.5,746.5 859.5,745.5 867.5,747.5 875.5,748.5 883.5,736.5 891.5,737.5 899.5,733.5 907.5,733.5 915.5,735.5 923.5,745.5 931.5,741.5 939.5,733.5 947.5,741.5 955.5,741.5 963.5,744.5 971.5,752.5 979.5,753.5 987.5,752.5 995.5,755.5 1003.5,754.5 1011.5,750.5 1019.5,746.5 1027.5,760.5 1035.5,756.5 1043.5,748.5 1051.5,748.5 1059.5,724.5 1067.5,729.5 1075.5,729.5 1083.5,733.5 1091.5,729.5 1099.5,729.5 1107.5,727.5 1115.5,729.5" fill="none" stroke="#1e90ff" stroke-width="1"/>
</g>
<text x="7" y="680" font-family='"Liberation Sans", sans-serif' font-size="10" fill="#000" font-weight="normal" text-anchor="start" textLength="68" lengthAdjust="spacingAndGlyphs" >RSI(14) 52.7312</text>
<rect x="1419" y="668" width="2" height="1" fill="#000" />
<text x="1422" y="678" font-family='"Liberation Sans", sans-serif' font-size="10" fill="#000" font-weight="normal" text-anchor="start" textLength="17" lengthAdjust="spacingAndGlyphs" >100</text>
<rect x="1419" y="707" width="2" height="1" fill="#000" />
<text x="1422" y="711" font-family='"Liberation Sans", sans-serif' font-size="10" fill="#000" font-weight="normal" text-anchor="start" textLength="11" lengthAdjust="spacingAndGlyphs" >70</text>
<rect x="1419" y="758" width="2" height="1" fill="#000" />
<text x="1422" y="762" font-family='"Liberation Sans", sans-serif' font-size="10" fill="#000" font-weight="normal" text-anchor="start" textLength="11" lengthAdjust="spacingAndGlyphs" >30</text>
<rect x="1419" y="796" width="2" height="1" fill="#000" />
<text x="1422" y="794" font-family='"Liberation Sans", sans-serif' font-size="10" fill="#000" font-weight="normal" text-anchor="start" textLength="6" lengthAdjust="spacingAndGlyphs" >0</text>
<rect x="3" y="798" width="1" height="3" fill="#000" />
<text x="2" y="810" font-family='"Liberation Sans", sans-serif' font-size="10" fill="#000" font-weight="normal" text-anchor="start" textLength="46.5" lengthAdjust="spacingAndGlyphs" >3 Mar 2019</text>
<rect x="67" y="798" width="1" height="3" fill="#000" />
<text x="66" y="810" font-family='"Liberation Sans", sans-serif' font-size="10" fill="#000" font-weight="normal" text-anchor="start" textLength="51.7" lengthAdjust="spacingAndGlyphs" >12 Mar 2019</text>
<rect x="131" y="798" width="1" height="3" fill="#000" />
<text x="130" y="810" font-family='"Liberation Sans", sans-serif' font-size="10" fill="#000" font-weight="normal" text-anchor="start" textLength="51.7" lengthAdjust="spacingAndGlyphs" >21 Mar 2019</text>
<rect x="195" y="798" width="1" height="3" fill="#000" />
<text x="194" y="810" font-family='"Liberation Sans", sans-serif' font-size="10" fill="#000" font-weight="normal" text-anchor="start" textLength="51.7" lengthAdjust="spacingAndGlyphs" >31 Mar 2019</text>
<rect x="259" y="798" width="1" height="3" fill="#000" />
<text x="258" y="810" font-family='"Liberation Sans", sans-serif' font-size="10" fill="#000" font-weight="normal" text-anchor="start" textLength="44.5" lengthAdjust="spacingAndGlyphs" >9 Apr 2019</text>
<rect x="323" y="798" width="1" height="3" fill="#000" />
<text x="322" y="810" font-family='"Liberation Sans", sans-serif' font-size="10" fill="#000" font-weight="normal" text-anchor="start" textLength="49.6" lengthAdjust="spacingAndGlyphs" >18 Apr 2019</text>
<rect x="387" y="798" width="1" height="3" fill="#000" />
<text x="386" y="810" font-family='"Liberation Sans", sans-serif' font-size="10" fill="#000" font-weight="normal" text-anchor="start" textLength="49.6" lengthAdjust="spacingAndGlyphs" >29 Apr 2019</text>
<rect x="451" y="798" width="1" height="3" fill="#000" />
<text x="450" y="810" font-family='"Liberation Sans", sans-serif' font-size="10" fill="#000" font-weight="normal" text-anchor="start" textLength="48.1" lengthAdjust="spacingAndGlyphs" >8 May 2019</text>
<rect x="515" y="798" width="1" height="3" fill="#000" />
<text x="514" y="810" font-family='"Liberation Sans", sans-serif' font-size="10" fill="#000" font-weight="normal" text-anchor="start" textLength="53.2" lengthAdjust="spacingAndGlyphs" >17 May 2019</text>
<rect x="579" y="798" width="1" height="3" fill="#000" />
<text x="578" y="810" font-family='"Liberation Sans", sans-serif' font-size="10" fill="#000" font-weight="normal" text-anchor="start" textLength="53.2" lengthAdjust="spacingAndGlyphs" >27 May 2019</text>
<rect x="643" y="798" width="1" height="3" fill="#000" />
<text x="642" y="810" font-family='"Liberation Sans", sans-serif' font-size="10" fill="#000" font-weight="normal" text-anchor="start" textLength="45.5" lengthAdjust="spacingAndGlyphs" >5 Jun 2019</text>
<rect x="707" y="798" width="1" height="3" fill="#000" />
<text x="706" y="810" font-family='"Liberation Sans", sans-serif' font-size="10" fill="#000" font-weight="normal" text-anchor="start" textLength="50.6" lengthAdjust="spacingAndGlyphs" >14 Jun 2019</text>
<rect x="771" y="798" width="1" height="3" fill="#000" />
<text x="770" y="810" font-family='"Liberation Sans", sans-serif' font-size="10" fill="#000" font-weight="normal" text-anchor="start" textLength="50.6" lengthAdjust="spacingAndGlyphs" >24 Jun 2019</text>
<rect x="835" y="798" width="1" height="3" fill="#000" />
<text x="834" y="810" font-family='"Liberation Sans", sans-serif' font-size="10" fill="#000" font-weight="normal" text-anchor="start" textLength="42.5" lengthAdjust="spacingAndGlyphs" >3 Jul 2019</text>
<rect x="899" y="798" width="1" height="3" fill="#000" />
<text x="898" y="810" font-family='"Liberation Sans", sans-serif' font-size="10" fill="#000" font-weight="normal" text-anchor="start" textLength="47.6" lengthAdjust="spacingAndGlyphs" >12 Jul 2019</text>
<rect x="963" y="798" width="1" height="3" fill="#000" />
<text x="962" y="810" font-family='"Liberation Sans", sans-serif' font-size="10" fill="#000" font-weight="normal" text-anchor="start" textLength="47.6" lengthAdjust="spacingAndGlyphs" >22 Jul 2019</text>
<rect x="1027" y="798" width="1" height="3" fill="#000" />
<text x="1026" y="810" font-family='"Liberation Sans", sans-serif' font-size="10" fill="#000" font-weight="normal" text-anchor="start" textLength="47.6" lengthAdjust="spacingAndGlyphs" >31 Jul 2019</text>
<rect x="1091" y="798" width="1" height="3" fill="#000" />
<text x="1090" y="810" font-family='"Liberation Sans", sans-serif' font-size="10" fill="#000" font-weight="normal" text-anchor="start" textLength="46.6" lengthAdjust="spacingAndGlyphs" >9 Aug 2019</text>
<rect x="0" y="818" width="1461" height="1" fill="#e0e0e0" />
<rect x="0" y="819" width="1461" height="20" fill="#f0f0f0" />
<rect x="0" y="820" width="1461" height="1" fill="#000" />
<rect x="4" y="820" width="108" height="19" fill="#ffffff" />
<rect x="4" y="820" width="1" height="19" fill="#000" />
<rect x="111" y="820" width="1" height="19" fill="#000" />
<rect x="4" y="838" width="108" height="1" fill="#000" />
<rect x="5" y="820" width="106" height="1" fill="#ffffff"/>
<text x="15.5" y="835" font-family='"Liberation Sans", sans-serif' font-size="12" fill="#000" font-weight="normal" text-anchor="start" textLength="84" lengthAdjust="spacingAndGlyphs" >EURUSD-,Daily</text>
<text x="122" y="835" font-family='"Liberation Sans", sans-serif' font-size="12" fill="#6d6d6d" font-weight="normal" text-anchor="start" textLength="87" lengthAdjust="spacingAndGlyphs" >AUDUSD-,Daily</text>
<text x="232" y="835" font-family='"Liberation Sans", sans-serif' font-size="12" fill="#6d6d6d" font-weight="normal" text-anchor="start" textLength="85" lengthAdjust="spacingAndGlyphs" >USDCHF-,Daily</text>
<text x="340" y="835" font-family='"Liberation Sans", sans-serif' font-size="12" fill="#6d6d6d" font-weight="normal" text-anchor="start" textLength="86" lengthAdjust="spacingAndGlyphs" >USDCAD-,Daily</text>
<text x="448" y="835" font-family='"Liberation Sans", sans-serif' font-size="12" fill="#6d6d6d" font-weight="normal" text-anchor="start" textLength="88" lengthAdjust="spacingAndGlyphs" >USDCNH-,Daily</text>
<text x="559" y="835" font-family='"Liberation Sans", sans-serif' font-size="12" fill="#6d6d6d" font-weight="normal" text-anchor="start" textLength="98" lengthAdjust="spacingAndGlyphs" >EURCHF-,Weekly</text>
<text x="680" y="835" font-family='"Liberation Sans", sans-serif' font-size="12" fill="#6d6d6d" font-weight="normal" text-anchor="start" textLength="101" lengthAdjust="spacingAndGlyphs" >XAUUSD-,Weekly</text>
<text x="803" y="835" font-family='"Liberation Sans", sans-serif' font-size="12" fill="#6d6d6d" font-weight="normal" text-anchor="start" textLength="73" lengthAdjust="spacingAndGlyphs" >GBPUSD-,H1</text>
<text x="899" y="835" font-family='"Liberation Sans", sans-serif' font-size="12" fill="#6d6d6d" font-weight="normal" text-anchor="start" textLength="57" lengthAdjust="spacingAndGlyphs" >UKOil-,H1</text>
<text x="977" y="835" font-family='"Liberation Sans", sans-serif' font-size="12" fill="#6d6d6d" font-weight="normal" text-anchor="start" textLength="84" lengthAdjust="spacingAndGlyphs" >USDX-,Weekly</text>
<rect x="220" y="823" width="1" height="14" fill="#a0a0a0" />
<rect x="328" y="823" width="1" height="14" fill="#a0a0a0" />
<rect x="437" y="823" width="1" height="14" fill="#a0a0a0" />
<rect x="548" y="823" width="1" height="14" fill="#a0a0a0" />
<rect x="668" y="823" width="1" height="14" fill="#a0a0a0" />
<rect x="793" y="823" width="1" height="14" fill="#a0a0a0" />
<rect x="888" y="823" width="1" height="14" fill="#a0a0a0" />
<rect x="969" y="823" width="1" height="14" fill="#a0a0a0" />
<rect x="1073" y="823" width="1" height="14" fill="#a0a0a0" />
<polygon points="1433.5,829 1437,825.5 1437,832.5" fill="#a0a0a0"/>
<polygon points="1453,825.5 1456.5,829 1453,832.5" fill="#a0a0a0"/>
</svg>
</body></html>
